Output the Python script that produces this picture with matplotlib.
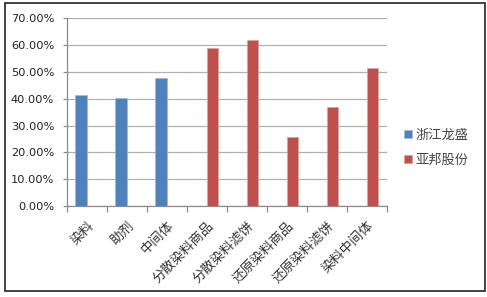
import matplotlib
matplotlib.use("Agg")
import matplotlib.pyplot as plt
import numpy as np
from matplotlib.patches import Rectangle
from matplotlib.ticker import FuncFormatter, FixedLocator

plt.rcParams['font.family'] = ['Noto Sans CJK SC', 'DejaVu Sans']

categories = ["染料", "助剂", "中间体", "分散染料商品", "分散染料滤饼", "还原染料商品", "还原染料滤饼", "染料中间体"]
series_names = ["浙江龙盛", "亚邦股份"]
longsheng = [0.413, 0.405, 0.478, 0, 0, 0, 0, 0]
yabang = [0, 0, 0, 0.590, 0.619, 0.258, 0.369, 0.516]
colors = ["#4F81BD", "#C0504D"]

fig = plt.figure(figsize=(4.87, 2.97), dpi=100)
ax = fig.add_axes([0.137, 0.306, 0.657, 0.632])

x = np.arange(len(categories))
w = 1 / 3.5
ax.bar(x - w / 2, longsheng, width=w, color=colors[0], edgecolor="#9DB9DE", linewidth=0.5, label=series_names[0], zorder=3)
ax.bar(x + w / 2, yabang, width=w, color=colors[1], edgecolor="#E0A09E", linewidth=0.5, label=series_names[1], zorder=3)

ax.set_xlim(-0.5, len(categories) - 0.5)
ax.set_ylim(0, 0.70)
ax.set_yticks(np.arange(0, 0.71, 0.10))
ax.yaxis.set_major_formatter(FuncFormatter(lambda v, p: f"{v*100:.2f}%"))
ax.grid(axis='y', color="#B0B0B0", linewidth=0.9, zorder=0)
for s in ['top', 'right']:
    ax.spines[s].set_visible(False)
for s in ['left', 'bottom']:
    ax.spines[s].set_color("#8C8C8C")
    ax.spines[s].set_linewidth(0.9)

ax.set_xticks(x)
ax.set_xticklabels(categories, rotation=45, ha='right', rotation_mode='anchor', fontsize=9.6, color="#333333")
ax.tick_params(axis='x', which='major', length=0, pad=9)
ax.xaxis.set_minor_locator(FixedLocator(np.arange(-0.5, len(categories), 1.0)))
ax.tick_params(axis='x', which='minor', length=4, color="#8C8C8C", width=0.9)
ax.tick_params(axis='y', length=3, color="#8C8C8C", width=0.9, pad=6)
for lab in ax.get_yticklabels():
    lab.set_family('DejaVu Sans')
    lab.set_fontsize(8.2)
    lab.set_color("#222222")

leg = fig.legend(loc='upper left', bbox_to_anchor=(0.818, 0.585), frameon=False,
                 fontsize=9.5, handlelength=0.6, handleheight=0.6, handletextpad=0.3,
                 labelspacing=0.9, borderaxespad=0)
for t in leg.get_texts():
    t.set_color("#444444")

fig.patches.append(Rectangle((4.5 / 487, 1 - 291 / 297), (485 - 4.5) / 487, (291 - 3) / 297,
                             transform=fig.transFigure, fill=False, edgecolor="#222222", linewidth=1.2))

fig.savefig("out.png", dpi=100)
